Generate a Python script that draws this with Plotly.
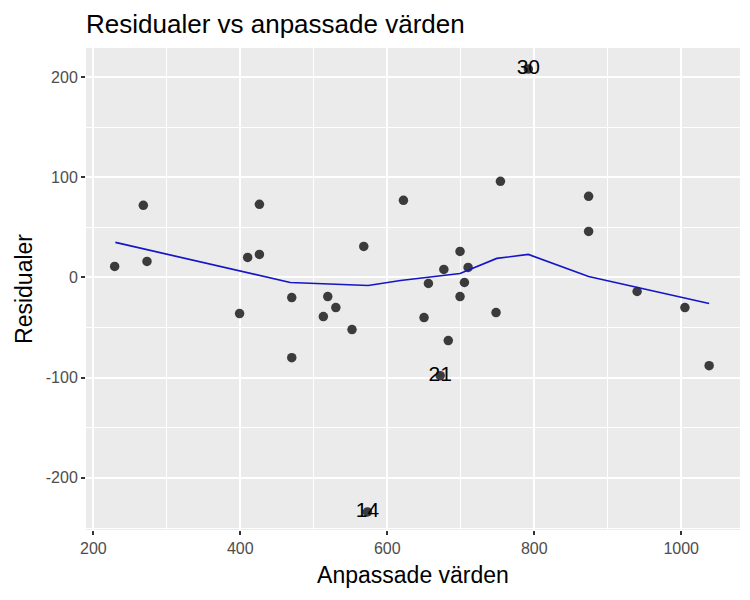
import plotly.graph_objects as go

fitted = [229, 268, 273, 399, 410, 426, 426, 470, 470, 513, 519, 530, 552, 568,
          573, 622, 650, 656, 672, 677, 683, 699, 699, 705, 710, 748, 754, 792,
          874, 874, 940, 1005, 1038]
resid = [11, 72, 16, -36, 20, 23, 73, -20, -80, -39, -19, -30, -52, 31,
         -234, 77, -40, -6, -98, 8, -63, 26, -19, -5, 10, -35, 96, 208,
         81, 46, -14, -30, -88]

smooth_x = [230, 468, 574, 618, 699, 749, 792, 874, 1038]
smooth_y = [35, -5, -8, -3, 4, 19, 23, 1, -26]

label_x = [573, 672, 792]
label_y = [-234, -98, 208]
label_txt = ["14", "21", "30"]

x_ticks = [200, 400, 600, 800, 1000]
y_ticks = [-200, -100, 0, 100, 200]
y_ticktext = ["-200", "-100", "0", "100", "200"]

font = "Liberation Sans, Arial, sans-serif"

fig = go.Figure()
fig.add_hline(y=0, line=dict(color="#a8a8a8", width=1, dash="dash"), layer="below")
fig.add_trace(go.Scatter(x=fitted, y=resid, mode="markers",
                         marker=dict(size=9.5, color="rgba(0,0,0,0.75)",
                                     line=dict(width=0)),
                         hoverinfo="skip", showlegend=False))
fig.add_trace(go.Scatter(x=smooth_x, y=smooth_y, mode="lines",
                         line=dict(color="#1515c8", width=1.7),
                         showlegend=False))
fig.add_trace(go.Scatter(x=label_x, y=label_y, mode="text", text=label_txt,
                         textposition="middle center",
                         textfont=dict(size=21, color="black", family=font),
                         showlegend=False))

fig.update_layout(
    width=750, height=600,
    paper_bgcolor="white", plot_bgcolor="#EBEBEB",
    margin=dict(l=78, r=18, t=40, b=78),
    title=dict(text="Residualer vs anpassade värden", x=0, xref="paper",
               xanchor="left", y=1 - 16 / 600, yanchor="middle",
               font=dict(size=26, color="black", family=font)),
    font=dict(family=font),
)
fig.update_xaxes(range=[190, 1080], tickvals=x_ticks,
                 showgrid=True, gridcolor="white", gridwidth=1.6,
                 minor=dict(dtick=100, tick0=0, showgrid=True, gridcolor="white", gridwidth=0.7),
                 zeroline=False, ticks="outside", ticklen=4, tickwidth=1.5, tickcolor="#333333",
                 tickfont=dict(size=16, color="#4d4d4d"),
                 title=dict(text="Anpassade värden", font=dict(size=23, color="black"),
                            standoff=10))
fig.update_yaxes(range=[-252, 229], tickvals=y_ticks, ticktext=y_ticktext,
                 showgrid=True, gridcolor="white", gridwidth=1.6,
                 minor=dict(dtick=50, tick0=0, showgrid=True, gridcolor="white", gridwidth=0.7),
                 zeroline=False, ticks="outside", ticklen=4, tickwidth=1.5, tickcolor="#333333",
                 tickfont=dict(size=16, color="#4d4d4d"),
                 title=dict(text="Residualer", font=dict(size=23, color="black"),
                            standoff=6))

fig.write_html("out.html")
